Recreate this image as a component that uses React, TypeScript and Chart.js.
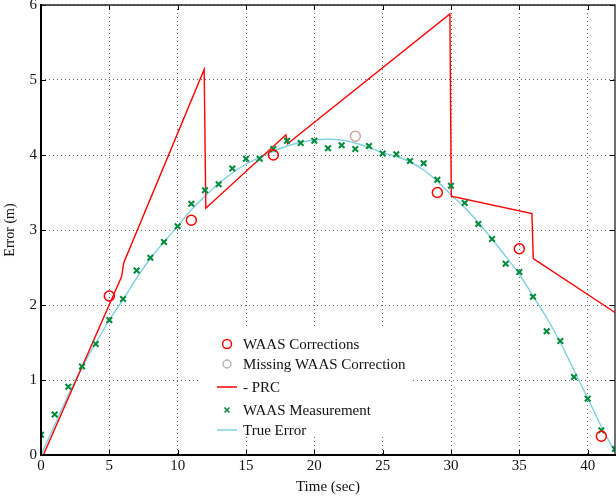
import React, { useEffect, useRef } from "react";
import { Chart, registerables } from "chart.js";

Chart.register(...registerables);

// ---- data ----
const corrTimes = [5, 11, 17, 29, 35, 41];
const corrValues = [2.12, 3.13, 4.0, 3.5, 2.75, 0.25];

const missingTimes = [23];
const missingValues = [4.25];

const prcTimes = [0.17, 5.9, 6.05, 11.94, 12.06, 17.92, 18.04, 29.92, 30.02, 35.92, 36.02, 42];
const prcValues = [0, 2.38, 2.56, 5.14, 3.29, 4.27, 4.15, 5.88, 3.45, 3.22, 2.62, 1.9];

const measTimes = [
  0, 1, 2, 3, 4, 5, 6, 7, 8, 9, 10, 11, 12, 13, 14, 15, 16, 17, 18, 19, 20, 21,
  22, 23, 24, 25, 26, 27, 28, 29, 30, 31, 32, 33, 34, 35, 36, 37, 38, 39, 40, 41, 42,
];
const measValues = [
  0.27, 0.54, 0.91, 1.18, 1.48, 1.8, 2.08, 2.46, 2.63, 2.84,
  3.05, 3.35, 3.53, 3.61, 3.82, 3.95, 3.95, 4.08, 4.19, 4.16,
  4.19, 4.09, 4.13, 4.08, 4.12, 4.02, 4.01, 3.92, 3.89, 3.67,
  3.59, 3.36, 3.08, 2.88, 2.55, 2.44, 2.11, 1.65, 1.52, 1.04,
  0.75, 0.33, 0.08,
];

const trueTimes = measTimes;
const trueValues = [
  0, 0.4, 0.8, 1.17, 1.49, 1.8, 2.07, 2.36, 2.62, 2.84,
  3.05, 3.27, 3.45, 3.62, 3.76, 3.88, 3.97, 4.05, 4.12, 4.17,
  4.2, 4.21, 4.2, 4.16, 4.1, 4.03, 3.98, 3.91, 3.8, 3.65,
  3.47, 3.3, 3.1, 2.88, 2.65, 2.41, 2.12, 1.83, 1.5, 1.13,
  0.76, 0.38, 0.04,
];

const xTickValues = [0, 5, 10, 15, 20, 25, 30, 35, 40];
const yTickValues = [0, 1, 2, 3, 4, 5, 6];

const legendLabels = [
  "WAAS Corrections",
  "Missing WAAS Correction",
  "- PRC",
  "WAAS Measurement",
  "True Error",
];

const RED = "#ff0000";
const GREY = "#cfa3a3";
const GREEN = "#008a3c";
const CYAN = "#7fd0e4";
const FONT = "'Liberation Serif', 'DejaVu Serif', serif";

const pts = (xs: number[], ys: number[]) => xs.map((x, i) => ({ x, y: ys[i] }));

const framePlugin = {
  id: "frameLegend",
  beforeDatasetsDraw(chart: any) {
    const ctx = chart.ctx;
    ctx.save();
    ctx.fillStyle = "#ffffff";
    ctx.fillRect(200, 327, 211, 110);
    ctx.restore();
  },
  afterDraw(chart: any) {
    const ctx = chart.ctx;
    const { left, right, top, bottom } = chart.chartArea;
    const xs = chart.scales.x;
    const ys = chart.scales.y;
    ctx.save();
    ctx.strokeStyle = "#000";
    // inner ticks
    ctx.lineWidth = 1;
    ctx.beginPath();
    xTickValues.forEach((v) => {
      const px = Math.round(xs.getPixelForValue(v)) + 0.5;
      ctx.moveTo(px, bottom);
      ctx.lineTo(px, bottom - 5);
      ctx.moveTo(px, top);
      ctx.lineTo(px, top + 5);
    });
    yTickValues.forEach((v) => {
      const py = Math.round(ys.getPixelForValue(v)) + 0.5;
      ctx.moveTo(left, py);
      ctx.lineTo(left + 5, py);
      ctx.moveTo(right, py);
      ctx.lineTo(right - 5, py);
    });
    ctx.stroke();
    // frame
    ctx.lineWidth = 1.3;
    ctx.strokeStyle = "#222";
    ctx.beginPath();
    ctx.moveTo(left, top);
    ctx.lineTo(right, top);
    ctx.lineTo(right, bottom);
    ctx.stroke();
    ctx.lineWidth = 2;
    ctx.strokeStyle = "#000";
    ctx.beginPath();
    ctx.moveTo(left, top - 1);
    ctx.lineTo(left, bottom);
    ctx.lineTo(right + 1, bottom);
    ctx.stroke();

    // legend
    const rows = [344, 364, 387, 410, 430];
    const sx = 227;
    ctx.font = "15px " + FONT;
    ctx.textBaseline = "middle";
    ctx.textAlign = "left";
    legendLabels.forEach((t, i) => {
      const y = rows[i];
      ctx.fillStyle = "#111";
      ctx.fillText(t, 243, y + 1);
      ctx.beginPath();
      if (i === 0 || i === 1) {
        ctx.lineWidth = 1.5;
        ctx.strokeStyle = i === 0 ? RED : "#b8b8b8";
        ctx.arc(sx, y, i === 0 ? 4.5 : 4, 0, Math.PI * 2);
        ctx.stroke();
      } else if (i === 2 || i === 4) {
        ctx.lineWidth = 1.5;
        ctx.strokeStyle = i === 2 ? RED : CYAN;
        ctx.moveTo(217, y);
        ctx.lineTo(237, y);
        ctx.stroke();
      } else {
        ctx.lineWidth = 1.5;
        ctx.strokeStyle = GREEN;
        ctx.moveTo(sx - 2.5, y - 2.5);
        ctx.lineTo(sx + 2.5, y + 2.5);
        ctx.moveTo(sx + 2.5, y - 2.5);
        ctx.lineTo(sx - 2.5, y + 2.5);
        ctx.stroke();
      }
    });
    ctx.restore();
  },
};

export default function App() {
  const ref = useRef<HTMLCanvasElement | null>(null);
  useEffect(() => {
    if (!ref.current) return;
    const chart = new Chart(ref.current, {
      type: "scatter",
      data: {
        datasets: [
          {
            label: legendLabels[0],
            data: pts(corrTimes, corrValues),
            showLine: false,
            pointStyle: "circle",
            pointRadius: 5,
            pointBorderColor: RED,
            pointBackgroundColor: "rgba(0,0,0,0)",
            pointBorderWidth: 1.5,
            order: 1,
          },
          {
            label: legendLabels[1],
            data: pts(missingTimes, missingValues),
            showLine: false,
            pointStyle: "circle",
            pointRadius: 5,
            pointBorderColor: GREY,
            pointBackgroundColor: "rgba(0,0,0,0)",
            pointBorderWidth: 1.5,
            order: 2,
          },
          {
            label: legendLabels[2],
            data: pts(prcTimes, prcValues),
            showLine: true,
            borderColor: RED,
            borderWidth: 1.4,
            pointRadius: 0,
            tension: 0,
            order: 4,
          },
          {
            label: legendLabels[3],
            data: pts(measTimes, measValues),
            showLine: false,
            pointStyle: "crossRot",
            pointRadius: 4,
            pointBorderColor: GREEN,
            pointBorderWidth: 2,
            order: 3,
          },
          {
            label: legendLabels[4],
            data: pts(trueTimes, trueValues),
            showLine: true,
            borderColor: CYAN,
            borderWidth: 1.4,
            pointRadius: 0,
            cubicInterpolationMode: "monotone",
            order: 5,
          },
        ],
      },
      options: {
        responsive: false,
        devicePixelRatio: 1,
        animation: false,
        layout: { autoPadding: false, padding: { top: 5, right: 1, left: 0, bottom: 0 } },
        plugins: {
          legend: { display: false },
          tooltip: { enabled: false },
        },
        scales: {
          x: {
            type: "linear",
            min: 0,
            max: 42,
            afterBuildTicks: (s: any) => {
              s.ticks = xTickValues.map((v) => ({ value: v }));
            },
            afterFit: (s: any) => {
              s.height = 47;
              s.paddingLeft = 0;
              s.paddingRight = 0;
            },
            ticks: {
              font: { family: FONT, size: 15 },
              color: "#111",
              padding: 2,
              maxRotation: 0,
            },
            grid: { color: "#666", lineWidth: 1, drawTicks: false },
            border: { display: false, dash: [1, 3] },
            title: {
              display: true,
              text: "Time (sec)",
              font: { family: FONT, size: 15 },
              color: "#111",
              padding: { top: 0, bottom: 6 },
            },
          },
          y: {
            type: "linear",
            min: 0,
            max: 6,
            afterBuildTicks: (s: any) => {
              s.ticks = yTickValues.map((v) => ({ value: v }));
            },
            afterFit: (s: any) => {
              s.width = 41;
              s.paddingTop = 0;
              s.paddingBottom = 0;
            },
            ticks: {
              font: { family: FONT, size: 15 },
              color: "#111",
              padding: 4,
            },
            grid: { color: "#666", lineWidth: 1, drawTicks: false },
            border: { display: false, dash: [1, 3] },
            title: {
              display: true,
              text: "Error (m)",
              font: { family: FONT, size: 14 },
              color: "#111",
              padding: { top: 2, bottom: 0 },
            },
          },
        },
      },
      plugins: [framePlugin],
    } as any);
    return () => chart.destroy();
  }, []);
  return (
    <div style={{ position: "fixed", left: 0, top: 0, width: 616, height: 502, background: "#fff" }}>
      <canvas ref={ref} width={616} height={502} style={{ width: 616, height: 502, display: "block" }} />
    </div>
  );
}
